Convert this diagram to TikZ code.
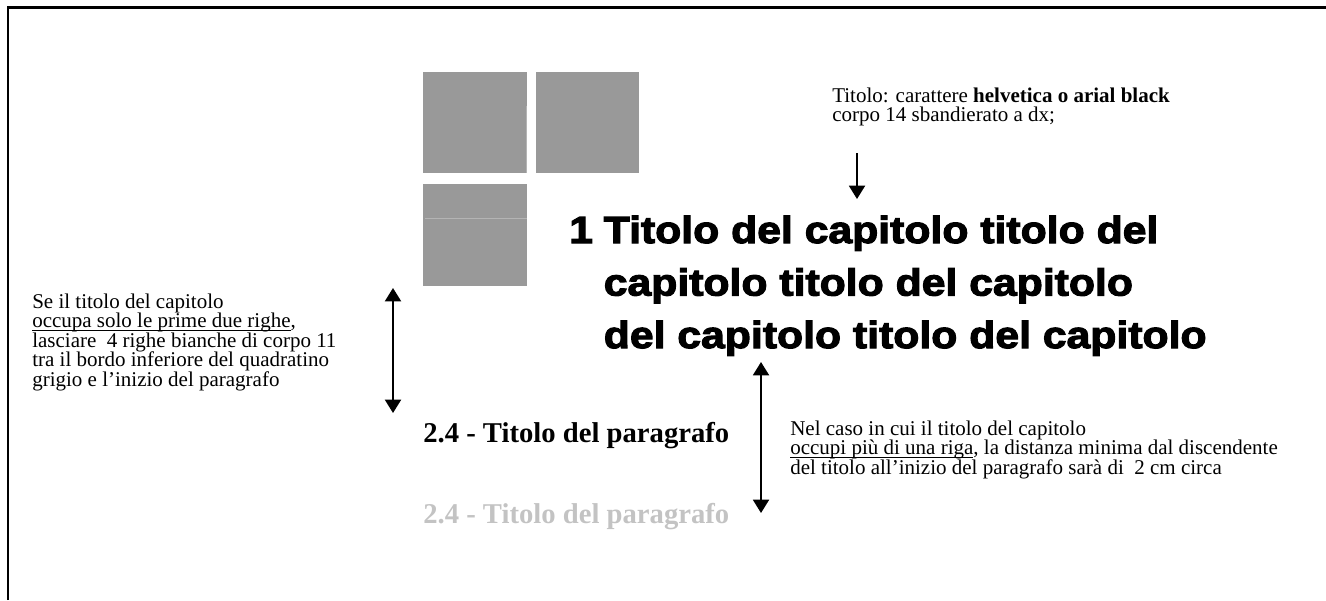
\documentclass[tikz,border=0pt]{standalone}
\usepackage{fontspec}
\setmainfont{Liberation Serif}
\newfontfamily\headfont{Liberation Sans}[BoldFeatures={FakeBold=3,FakeStretch=1.13}]
\usetikzlibrary{arrows.meta}
\definecolor{sqgray}{HTML}{999999}
\definecolor{seam}{HTML}{B4B4B4}
\definecolor{ghost}{HTML}{C3C3C3}
\newcommand\myul[1]{\setbox0\hbox{#1}\rlap{\rule[-0.17em]{\wd0}{0.055em}}\box0}
\begin{document}
\begin{tikzpicture}[x=0.75pt,y=-0.75pt,
  note/.style={inner sep=0pt,anchor=base west,font=\fontsize{15.75pt}{14.7pt}\selectfont},
  head/.style={inner sep=0pt,anchor=base west,font=\headfont\bfseries\fontsize{28.35pt}{39.4pt}\selectfont},
  parhead/.style={inner sep=0pt,anchor=base west,font=\bfseries\fontsize{21.5pt}{24pt}\selectfont},
  arr/.style={line width=1.5pt,-{Triangle[width=12pt,length=10pt]}},
  darr/.style={line width=1.5pt,{Triangle[width=12pt,length=10pt]}-{Triangle[width=12pt,length=10pt]}},
  sq/.style={fill=sqgray,draw=none}]
\useasboundingbox (0,0) rectangle (1326,600);
% frame (top and left)
\draw[line width=1.6pt] (8,600) -- (8,7.5) -- (1326,7.5);
% gray squares
\fill[sq] (423,72) rectangle (527,173);
\fill[sq] (536,72) rectangle (639,173);
\fill[sq] (423,184) rectangle (527,286);
\draw[seam,line width=0.5pt] (526.3,106) -- (526.3,173);
\draw[seam,line width=0.6pt] (425,218) -- (527,218);
% top note
\node[note] (topnote) at (832,102) {\vtop{\hbox{Titolo: carattere \textbf{helvetica o arial black}}\hbox{corpo 14 sbandierato a dx;}}};
\coordinate (a1s) at (857,153);
\coordinate (a1e) at (857,199);
\draw[arr] (a1s) -- (a1e);
% chapter heading
\node[head] (num) at (569,243) {1};
\node[head] (title) at (603.5,243) {\vtop{\hbox{Titolo del capitolo titolo del}\hbox{capitolo titolo del capitolo}\hbox{del capitolo titolo del capitolo}}};
% left note
\node[note] (leftnote) at (32,308) {\vtop{\hbox{Se il titolo del capitolo}\hbox{\myul{occupa solo le prime due righe},}\hbox{lasciare\ \ 4 righe bianche di corpo 11}\hbox{tra il bordo inferiore del quadratino}\hbox{grigio e l'inizio del paragrafo}}};
\coordinate (a2s) at (393,288);
\coordinate (a2e) at (393,413);
\draw[darr] (a2s) -- (a2e);
% paragraph headings
\node[parhead] (par1) at (423,442) {2.4 - Titolo del paragrafo};
\node[parhead,text=ghost] (par2) at (423,523) {2.4 - Titolo del paragrafo};
% right arrow and note
\coordinate (a3s) at (761,362);
\coordinate (a3e) at (761,513);
\draw[darr] (a3s) -- (a3e);
\node[note] (rightnote) at (790,435) {\vtop{\hbox{Nel caso in cui il titolo del capitolo}\hbox{\myul{occupi più di una riga}, la distanza minima dal discendente}\hbox{del titolo all'inizio del paragrafo sarà di\ \ 2 cm circa}}};
\end{tikzpicture}
\end{document}
